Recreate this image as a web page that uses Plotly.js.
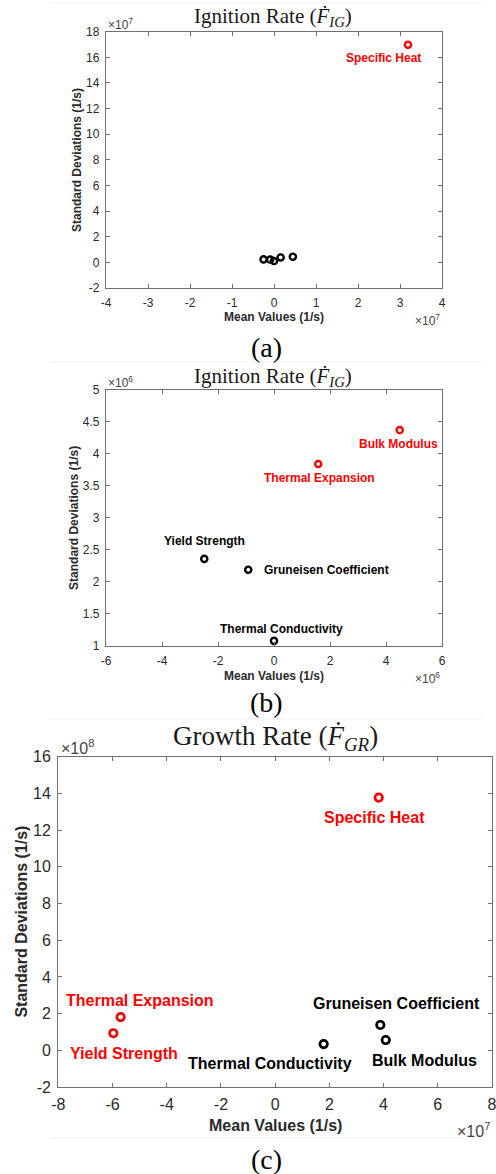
<!DOCTYPE html>
<html>
<head>
<meta charset="utf-8">
<script src="https://cdn.plot.ly/plotly-3.0.1.min.js"></script>
<style>html,body{margin:0;padding:0;background:#fff;}#chart{width:496px;height:1174px;}</style>
</head>
<body>
<div id="chart"></div>
<script>
// ---------- DATA ----------
// Ignition rate (panels a and b share the same values)
const igNames = ['Specific Heat', 'Bulk Modulus', 'Thermal Expansion', 'Yield Strength', 'Gruneisen Coefficient', 'Thermal Conductivity'];
const igMean  = [3.19e7, 4.49e6, 1.58e6, -2.49e6, -0.92e6, 0.0];
const igStd   = [16.98e7, 4.37e6, 3.84e6, 2.36e6, 2.19e6, 1.08e6];
const aRed    = [true, false, false, false, false, false];   // panel (a) highlight
const bRed    = [true, true, true, false, false, false];     // panel (b) highlight

// Growth rate (panel c)
const grNames = ['Specific Heat', 'Thermal Expansion', 'Yield Strength', 'Thermal Conductivity', 'Gruneisen Coefficient', 'Bulk Modulus'];
const grMean  = [3.82e7, -5.70e7, -5.97e7, 1.79e7, 3.88e7, 4.08e7];
const grStd   = [13.77e8, 1.81e8, 0.93e8, 0.34e8, 1.38e8, 0.56e8];
const cRed    = [true, true, true, false, false, false];

// Tick labels (in units of 10^exp)
const aXTicks = [-4, -3, -2, -1, 0, 1, 2, 3, 4];
const aYTicks = [-2, 0, 2, 4, 6, 8, 10, 12, 14, 16, 18];
const bXTicks = [-6, -4, -2, 0, 2, 4, 6];
const bYTicks = [1, 1.5, 2, 2.5, 3, 3.5, 4, 4.5, 5];
const cXTicks = [-8, -6, -4, -2, 0, 2, 4, 6, 8];
const cYTicks = [-2, 0, 2, 4, 6, 8, 10, 12, 14, 16];
const aExp = {x: 7, y: 7}, bExp = {x: 6, y: 6}, cExp = {x: 7, y: 8};

const titleIG = 'Ignition Rate (<i>Ḟ</i><sub><i>IG</i></sub>)';
const titleGR = 'Growth Rate (<i>Ḟ</i><sub><i>GR</i></sub>)';
const xLabel = 'Mean Values (1/s)';
const yLabel = 'Standard Deviations (1/s)';
const captions = ['(a)', '(b)', '(c)'];

// ---------- STYLE / LAYOUT ----------
const W = 496, H = 1174;
const RED = '#ff0000', BLACK = '#000000';
const SANS = 'Liberation Sans, Arial, sans-serif';
const SERIF = 'Liberation Serif, Times New Roman, serif';
const AXC = '#707070', TXC = '#2a2a2a';
const px = v => v / W;
const py = v => 1 - v / H;

// plot boxes in pixels [left, right, top, bottom]
const boxes = {
  a: [106, 442, 31.7, 288],
  b: [106, 442, 389.7, 646],
  c: [58.3, 492, 756.7, 1087]
};

// label offsets in pixels (dx right, dy down), anchor
const labelOffsets = {
  a: {'Specific Heat': [-24, 13.6, 'center']},
  b: {
    'Bulk Modulus': [-1.4, 13.7, 'center'],
    'Thermal Expansion': [1, 14, 'center'],
    'Yield Strength': [0, -18.3, 'center'],
    'Gruneisen Coefficient': [14, 0.7, 'left'],
    'Thermal Conductivity': [7, -11.7, 'center']
  },
  c: {
    'Specific Heat': [-4, 19.6, 'center'],
    'Thermal Expansion': [19.3, -17, 'center'],
    'Yield Strength': [10.7, 20, 'center'],
    'Thermal Conductivity': [-53.7, 19.3, 'center'],
    'Gruneisen Coefficient': [15.7, -21, 'center'],
    'Bulk Modulus': [38.3, 20, 'center']
  }
};

function axisCfg(box, horizontal, ticks, exp, fontSize, anchor, range) {
  const scale = Math.pow(10, exp);
  return {
    domain: horizontal ? [px(box[0]), px(box[1])] : [py(box[3]), py(box[2])],
    anchor: anchor,
    range: range,
    tickmode: 'array',
    tickvals: ticks.map(t => t * scale),
    ticktext: ticks.map(t => String(t)),
    ticks: 'inside',
    ticklen: 4,
    tickwidth: 1,
    tickcolor: AXC,
    showline: true,
    linecolor: AXC,
    linewidth: 1.2,
    mirror: 'ticks',
    showgrid: false,
    zeroline: false,
    fixedrange: true,
    ticklabelstandoff: 3,
    ticklabeloverflow: 'allow',
    tickfont: {family: SANS, size: fontSize, color: TXC}
  };
}

const traces = [];
function addPanel(names, xs, ys, reds, xa, ya, msize, mline) {
  [true, false].forEach(isRed => {
    const idx = names.map((n, i) => i).filter(i => reds[i] === isRed);
    traces.push({
      type: 'scatter', mode: 'markers',
      x: idx.map(i => xs[i]), y: idx.map(i => ys[i]),
      xaxis: xa, yaxis: ya,
      marker: {symbol: 'circle-open', size: msize, color: isRed ? RED : BLACK,
               line: {width: mline, color: isRed ? RED : BLACK}},
      hoverinfo: 'skip', showlegend: false, cliponaxis: true
    });
  });
}

addPanel(igNames, igMean, igStd, aRed, 'x', 'y', 6.2, 2.4);
addPanel(igNames, igMean, igStd, bRed, 'x2', 'y2', 6.2, 2.4);
addPanel(grNames, grMean, grStd, cRed, 'x3', 'y3', 7.5, 2.7);

const annotations = [];
function addLabels(key, names, xs, ys, reds, xr, yr, fontSize) {
  const offs = labelOffsets[key];
  names.forEach((n, i) => {
    if (!offs[n]) return;
    const [dx, dy, anc] = offs[n];
    annotations.push({
      x: xs[i], y: ys[i], xref: xr, yref: yr, text: n, showarrow: false,
      xanchor: anc, yanchor: 'middle', xshift: dx, yshift: -dy,
      font: {family: SANS, size: fontSize, color: reds[i] ? RED : BLACK, weight: 'bold'}
    });
  });
}
addLabels('a', igNames, igMean, igStd, aRed, 'x', 'y', 12);
addLabels('b', igNames, igMean, igStd, bRed, 'x2', 'y2', 12);
addLabels('c', grNames, grMean, grStd, cRed, 'x3', 'y3', 16);

function paperText(text, x, y, font, xanchor, extra) {
  annotations.push(Object.assign({
    text: text, x: px(x), y: py(y), xref: 'paper', yref: 'paper',
    showarrow: false, xanchor: xanchor || 'center', yanchor: 'middle', font: font
  }, extra || {}));
}

// titles
paperText(titleIG, 273, 17, {family: SERIF, size: 21, color: '#1a1a1a'});
paperText(titleIG, 273, 376.7, {family: SERIF, size: 21, color: '#1a1a1a'});
paperText(titleGR, 275, 738, {family: SERIF, size: 27, color: '#1a1a1a'});

// axis titles
const axFontSmall = {family: SANS, size: 12, color: TXC, weight: 'bold'};
const axFontBig = {family: SANS, size: 16, color: TXC, weight: 'bold'};
paperText(xLabel, 274, 317, axFontSmall);
paperText(xLabel, 274, 675.7, axFontSmall);
paperText(xLabel, 275.3, 1125.7, axFontBig);
paperText(yLabel, 77, 160, axFontSmall, 'center', {textangle: -90});
paperText(yLabel, 74, 517.9, axFontSmall, 'center', {textangle: -90});
paperText(yLabel, 21.7, 921.9, axFontBig, 'center', {textangle: -90});

// exponent labels
const exFontSmall = {family: SANS, size: 12, color: '#444'};
const exFontBig = {family: SANS, size: 16, color: '#444'};
const ex = e => '×10<sup>' + e + '</sup>';
paperText(ex(aExp.y), 106, 24, exFontSmall, 'left');
paperText(ex(aExp.x), 442, 320, exFontSmall, 'right');
paperText(ex(bExp.y), 106, 381.7, exFontSmall, 'left');
paperText(ex(bExp.x), 442, 678.3, exFontSmall, 'right');
paperText(ex(cExp.y), 59, 746.7, exFontBig, 'left');
paperText(ex(cExp.x), 492, 1130, exFontBig, 'right');

// captions
paperText(captions[0], 266, 347, {family: SERIF, size: 28, color: '#000'});
paperText(captions[1], 266, 702, {family: SERIF, size: 28, color: '#000'});
paperText(captions[2], 266, 1159, {family: SERIF, size: 28, color: '#000'});

// faint separators
const shapes = [3, 362, 719, 1138].map(yy => ({
  type: 'line', xref: 'paper', yref: 'paper', x0: px(50), x1: px(483), y0: py(yy), y1: py(yy),
  line: {color: '#f2f2f2', width: 1}
}));

const layout = {
  width: W, height: H,
  margin: {l: 0, r: 0, t: 0, b: 0},
  paper_bgcolor: '#ffffff', plot_bgcolor: '#ffffff',
  showlegend: false,
  xaxis: axisCfg(boxes.a, true, aXTicks, aExp.x, 12, 'y', [-4e7, 4e7]),
  yaxis: axisCfg(boxes.a, false, aYTicks, aExp.y, 12, 'x', [-2e7, 18e7]),
  xaxis2: axisCfg(boxes.b, true, bXTicks, bExp.x, 12, 'y2', [-6e6, 6e6]),
  yaxis2: axisCfg(boxes.b, false, bYTicks, bExp.y, 12, 'x2', [1e6, 5e6]),
  xaxis3: axisCfg(boxes.c, true, cXTicks, cExp.x, 16, 'y3', [-8e7, 8e7]),
  yaxis3: axisCfg(boxes.c, false, cYTicks, cExp.y, 16, 'x3', [-2e8, 16e8]),
  annotations: annotations,
  shapes: shapes
};

Plotly.newPlot('chart', traces, layout, {staticPlot: true, displayModeBar: false});
</script>
</body>
</html>
